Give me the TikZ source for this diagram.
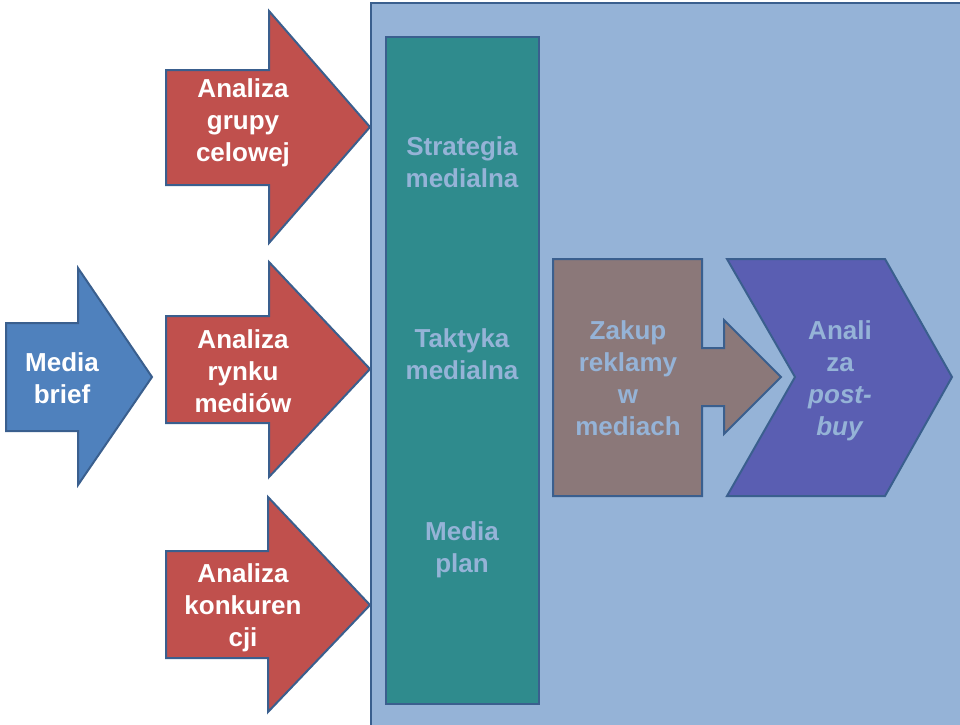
\documentclass[tikz,border=0pt]{standalone}
\usepackage{fontspec}
\setmainfont{Liberation Sans}
\definecolor{bgblue}{HTML}{95B3D7}
\definecolor{edgeblue}{HTML}{3A5F8E}
\definecolor{redarrow}{HTML}{C0504D}
\definecolor{bluearrow}{HTML}{4F81BD}
\definecolor{tealcol}{HTML}{2F8B8D}
\definecolor{brownbox}{HTML}{8B7879}
\definecolor{chevcol}{HTML}{5A5EB2}
\definecolor{lighttext}{HTML}{95B3D7}
\begin{document}
\begin{tikzpicture}[x=1pt,y=-1pt,
  shapeline/.style={draw=edgeblue,line width=2pt,line join=miter},
  lbl/.style={align=center,font=\fontsize{26}{32}\selectfont\bfseries,inner sep=0pt},
  whitelbl/.style={lbl,text=white},
  lightlbl/.style={lbl,text=lighttext}]
\useasboundingbox (0,0) rectangle (960,724);
% background panel
\fill[bgblue] (371,3) rectangle (962,726);
\draw[shapeline] (962,3) -- (371,3) -- (371,726);
% teal column
\draw[shapeline,fill=tealcol] (386,37) rectangle (539,704);
% Media brief arrow
\draw[shapeline,fill=bluearrow] (6,323) -- (78,323) -- (78,268) -- (152,377) -- (78,485) -- (78,431) -- (6,431) -- cycle;
% red arrows
\draw[shapeline,fill=redarrow] (166,70) -- (269,70) -- (269,11) -- (370,127) -- (269,243) -- (269,185) -- (166,185) -- cycle;
\draw[shapeline,fill=redarrow] (166,316) -- (269,316) -- (269,262) -- (370,369) -- (269,477) -- (269,423) -- (166,423) -- cycle;
\draw[shapeline,fill=redarrow] (166,551) -- (268,551) -- (268,497) -- (370,605) -- (268,712) -- (268,658) -- (166,658) -- cycle;
% brown box with arrow
\draw[shapeline,fill=brownbox] (553,259) -- (702,259) -- (702,348) -- (724,348) -- (724,320) -- (781,377) -- (724,434) -- (724,406) -- (702,406) -- (702,496) -- (553,496) -- cycle;
% chevron
\draw[shapeline,fill=chevcol] (727,259) -- (885,259) -- (952,377) -- (885,496) -- (727,496) -- (795,377) -- cycle;
% labels
\node[whitelbl] (brief) at (62,378) {Media\\brief};
\node[whitelbl] (grupy) at (243,123) {Analiza\\grupy\\celowej};
\node[whitelbl] (rynek) at (243,371) {Analiza\\rynku\\mediów};
\node[whitelbl] (konk) at (243,608) {Analiza\\konkuren\\cji};
\node[lightlbl] (strat) at (462,162) {Strategia\\medialna};
\node[lightlbl] (takt) at (462,354) {Taktyka\\medialna};
\node[lightlbl] (plan) at (462,550) {Media\\plan};
\node[lightlbl] (zakup) at (628,378) {Zakup\\reklamy\\w\\mediach};
\node[lightlbl] (post) at (840,381) {Anali\\za\\\textit{post-}\\\textit{buy}};
\end{tikzpicture}
\end{document}
